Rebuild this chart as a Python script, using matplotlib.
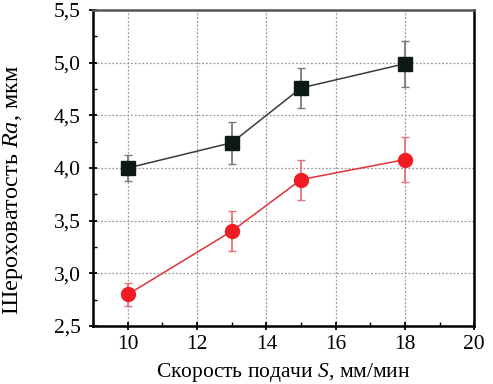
import matplotlib
matplotlib.use('Agg')
import matplotlib.pyplot as plt
from matplotlib.ticker import MultipleLocator, FuncFormatter

plt.rcParams['font.family'] = ['Liberation Serif', 'DejaVu Serif']
plt.rcParams['mathtext.fontset'] = 'custom'
plt.rcParams['mathtext.rm'] = 'Liberation Serif'
plt.rcParams['mathtext.it'] = 'Liberation Serif:italic'

# feed rate, mm/min
speed = [10, 13, 15, 18]
# roughness Ra, um
ra_black = [4.00, 4.24, 4.76, 4.99]
err_black = [0.12, 0.20, 0.19, 0.22]
ra_red = [2.80, 3.40, 3.89, 4.08]
err_red = [0.11, 0.19, 0.19, 0.21]

fig = plt.figure(figsize=(4.93, 3.84), dpi=100)
ax = fig.add_axes([0.189, 0.151, 0.773, 0.823])

ax.errorbar(speed, ra_black, yerr=err_black, fmt='s-', color='#3a3a3a', mfc='#0d1a14',
            mec='#0d1a14', ms=10, lw=1.1, ecolor='#7a7a7a', elinewidth=1.3, capsize=3, zorder=3)
ax.errorbar(speed, ra_red, yerr=err_red, fmt='o-', color='#e0303a', mfc='#f01c24',
            mec='#f01c24', ms=10, lw=1.1, ecolor='#e8707a', elinewidth=1.3, capsize=3, zorder=3)

ax.set_xlim(9, 20)
ax.set_ylim(2.5, 5.5)
ax.xaxis.set_major_locator(MultipleLocator(2))
ax.xaxis.set_minor_locator(MultipleLocator(1))
ax.yaxis.set_major_locator(MultipleLocator(0.5))
ax.yaxis.set_minor_locator(MultipleLocator(0.25))
ax.yaxis.set_major_formatter(FuncFormatter(lambda v, p: f'{v:.1f}'.replace('.', ',')))

ax.grid(True, which='major', color='#9a9a9a', ls=(0, (1.5, 1.5)), lw=0.9)
ax.tick_params(which='major', direction='inout', length=6, width=1.3, labelsize=15.5)
ax.tick_params(axis='y', which='major', pad=6)
ax.tick_params(which='minor', direction='in', length=3, width=1.0)

for s in ['left', 'bottom', 'right']:
    ax.spines[s].set_linewidth(1.8)
    ax.spines[s].set_color('black')
ax.spines['top'].set_linewidth(1.8)
ax.spines['top'].set_color('#555555')

ax.set_xlabel('Скорость подачи $\\it{S}$, мм/мин', fontsize=15.5, labelpad=5)
ax.set_ylabel('Шероховатость $\\it{Ra}$, мкм', fontsize=17.5)
ax.yaxis.set_label_coords(-0.18, 0.43)

fig.savefig('out.png', dpi=100)
